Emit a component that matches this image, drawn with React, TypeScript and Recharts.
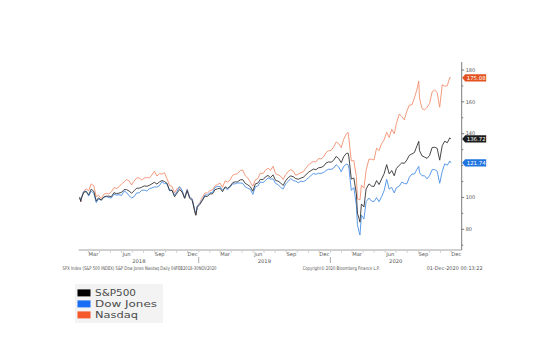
import React from 'react';
import { LineChart, Line, XAxis, YAxis } from 'recharts';

/* ------------------------------------------------------------------ */
/*  Data (rebased, 05 Feb 2018 = 100)                                  */
/* ------------------------------------------------------------------ */

const DATES = [
  // 2018
  '2018-02-05', '2018-02-08', '2018-02-09', '2018-02-16', '2018-02-23',
  '2018-03-02', '2018-03-09', '2018-03-16', '2018-03-23', '2018-03-29',
  '2018-04-06', '2018-04-13', '2018-04-20', '2018-04-27',
  '2018-05-04', '2018-05-11', '2018-05-18', '2018-05-25',
  '2018-06-01', '2018-06-08', '2018-06-15', '2018-06-22', '2018-06-29',
  '2018-07-06', '2018-07-13', '2018-07-20', '2018-07-27',
  '2018-08-03', '2018-08-10', '2018-08-17', '2018-08-24', '2018-08-31',
  '2018-09-07', '2018-09-14', '2018-09-21', '2018-09-28',
  '2018-10-05', '2018-10-12', '2018-10-19', '2018-10-26',
  '2018-11-02', '2018-11-09', '2018-11-16', '2018-11-23', '2018-11-30',
  '2018-12-07', '2018-12-14', '2018-12-21', '2018-12-24', '2018-12-28',
  // 2019
  '2019-01-04', '2019-01-11', '2019-01-18', '2019-01-25',
  '2019-02-01', '2019-02-08', '2019-02-15', '2019-02-22',
  '2019-03-01', '2019-03-08', '2019-03-15', '2019-03-22', '2019-03-29',
  '2019-04-05', '2019-04-12', '2019-04-18', '2019-04-26',
  '2019-05-03', '2019-05-10', '2019-05-17', '2019-05-24', '2019-05-31',
  '2019-06-07', '2019-06-14', '2019-06-21', '2019-06-28',
  '2019-07-05', '2019-07-12', '2019-07-19', '2019-07-26',
  '2019-08-02', '2019-08-09', '2019-08-16', '2019-08-23', '2019-08-30',
  '2019-09-06', '2019-09-13', '2019-09-20', '2019-09-27',
  '2019-10-04', '2019-10-11', '2019-10-18', '2019-10-25',
  '2019-11-01', '2019-11-08', '2019-11-15', '2019-11-22', '2019-11-29',
  '2019-12-06', '2019-12-13', '2019-12-20', '2019-12-27',
  // 2020
  '2020-01-03', '2020-01-10', '2020-01-17', '2020-01-24', '2020-01-31',
  '2020-02-07', '2020-02-14', '2020-02-19', '2020-02-21', '2020-02-28',
  '2020-03-06', '2020-03-13', '2020-03-16', '2020-03-20', '2020-03-23', '2020-03-27',
  '2020-04-03', '2020-04-09', '2020-04-17', '2020-04-24',
  '2020-05-01', '2020-05-08', '2020-05-15', '2020-05-22', '2020-05-29',
  '2020-06-05', '2020-06-12', '2020-06-19', '2020-06-26',
  '2020-07-02', '2020-07-10', '2020-07-17', '2020-07-24', '2020-07-31',
  '2020-08-07', '2020-08-14', '2020-08-21', '2020-08-28',
  '2020-09-02', '2020-09-04', '2020-09-11', '2020-09-18', '2020-09-25',
  '2020-10-02', '2020-10-09', '2020-10-16', '2020-10-23', '2020-10-30',
  '2020-11-06', '2020-11-13', '2020-11-20', '2020-11-27', '2020-11-30',
];

const SPX = [
  100, 97.4, 98.9, 103.1, 103.7, 101.6, 105.2, 103.9, 97.7, 99.7,
  98.3, 100.3, 100.8, 100.8, 100.5, 103.0, 102.4, 102.7,
  103.2, 104.9, 104.9, 104.0, 102.6, 104.2, 105.8, 105.8, 106.4,
  107.2, 107.0, 107.6, 108.5, 109.5, 108.4, 109.7, 110.6, 110.0,
  108.9, 104.5, 104.5, 100.4, 102.8, 105.0, 103.3, 99.4, 104.2,
  99.4, 98.1, 91.2, 88.8, 93.8,
  95.6, 98.0, 100.8, 100.6, 102.2, 102.2, 104.8, 105.4,
  105.8, 103.6, 106.6, 105.7, 107.0, 109.2, 109.8, 109.7, 111.0,
  111.2, 108.8, 107.9, 106.7, 103.9, 108.5, 109.0, 111.4, 111.1,
  112.9, 113.8, 112.4, 114.2, 110.7, 110.2, 109.1, 107.5, 110.5,
  112.4, 113.5, 113.0, 111.8, 111.4, 112.1, 112.7, 114.1,
  115.8, 116.8, 117.8, 117.4, 118.6, 118.8, 119.6, 121.6, 122.3,
  122.1, 123.3, 125.7, 124.4, 121.8, 125.6, 127.6, 127.8, 126.0, 111.5,
  112.2, 102.3, 90.1, 87.0, 84.5, 95.9, 94.0, 105.3, 108.5, 107.1,
  106.9, 110.6, 108.1, 111.6, 114.9, 120.6, 114.8, 116.9, 113.6,
  118.2, 120.2, 121.7, 121.4, 123.5, 126.5, 127.3, 128.2, 132.4,
  135.2, 129.4, 126.1, 125.3, 124.5, 126.4, 131.3, 131.5, 130.8, 123.4,
  132.5, 135.3, 134.3, 137.4, 136.72,
];

const DOW = [
  100, 98.0, 99.4, 103.6, 104.0, 100.8, 104.1, 102.5, 96.7, 99.0,
  98.3, 100.1, 100.5, 99.9, 99.7, 102.0, 101.5, 101.7,
  101.2, 104.0, 103.1, 101.0, 99.7, 100.5, 102.8, 102.9, 104.5,
  104.6, 104.0, 105.4, 105.9, 106.6, 106.5, 107.4, 109.8, 108.7,
  108.6, 104.1, 104.5, 101.4, 103.8, 106.8, 104.4, 99.8, 104.9,
  100.2, 99.0, 92.2, 89.5, 94.7,
  96.3, 98.6, 101.5, 101.6, 102.9, 103.1, 106.3, 106.9,
  106.9, 104.5, 106.2, 104.8, 106.5, 108.5, 108.5, 109.1, 109.0,
  108.9, 106.6, 105.8, 105.1, 101.9, 106.7, 107.2, 109.7, 109.3,
  110.6, 112.3, 111.5, 111.7, 108.8, 108.0, 106.3, 105.3, 108.5,
  110.1, 111.8, 110.6, 110.2, 109.2, 110.2, 110.0, 110.7,
  112.3, 113.7, 115.0, 114.5, 115.2, 115.1, 115.6, 116.9, 117.7,
  117.6, 118.4, 120.5, 119.1, 116.1, 119.5, 120.8, 120.5, 119.1, 104.4,
  106.2, 95.2, 82.9, 78.8, 76.4, 88.9, 86.5, 97.4, 99.6, 97.7,
  97.4, 99.9, 97.3, 100.5, 104.3, 111.4, 105.2, 106.3, 102.8,
  106.1, 107.1, 109.6, 108.7, 108.6, 112.7, 114.7, 114.7, 117.7,
  119.5, 115.6, 113.6, 113.6, 111.6, 113.7, 117.4, 117.5, 116.4, 108.9,
  116.3, 121.1, 120.2, 122.9, 121.74,
];

const NDX = [
  100, 97.3, 98.7, 103.9, 105.3, 104.2, 108.5, 107.4, 100.4, 101.4,
  99.2, 102.0, 102.6, 102.2, 103.5, 106.2, 105.6, 106.7,
  108.4, 109.7, 111.2, 110.4, 107.8, 110.3, 112.3, 112.2, 111.0,
  112.1, 112.5, 112.2, 114.0, 116.4, 113.4, 115.0, 114.6, 115.5,
  111.8, 107.6, 106.9, 102.9, 105.6, 106.3, 104.0, 99.6, 105.2,
  100.0, 99.2, 90.9, 88.9, 94.5,
  96.7, 100.1, 102.7, 102.8, 104.3, 104.7, 107.2, 108.0,
  109.0, 106.3, 110.3, 109.7, 110.9, 113.9, 114.6, 114.8, 116.9,
  117.2, 113.6, 112.2, 109.6, 107.0, 111.1, 111.9, 115.3, 114.9,
  117.1, 118.3, 116.9, 119.6, 114.9, 114.2, 113.3, 111.3, 114.3,
  116.3, 117.4, 116.5, 113.9, 114.6, 115.6, 116.1, 118.3,
  120.4, 121.6, 122.6, 122.3, 124.4, 124.2, 125.4, 128.1, 129.3,
  129.5, 131.7, 134.8, 133.7, 131.3, 136.6, 139.7, 140.9, 137.4, 123.0,
  123.1, 113.0, 99.1, 98.7, 98.5, 107.7, 105.8, 117.0, 124.1, 123.9,
  123.5, 130.9, 129.4, 133.8, 136.2, 140.9, 137.6, 142.8, 140.0,
  146.5, 152.4, 150.7, 148.7, 154.2, 158.0, 158.1, 162.4, 167.9,
  173.0, 162.4, 155.8, 154.9, 156.6, 159.0, 166.2, 167.5, 165.7, 156.6,
  170.7, 169.8, 170.1, 175.2, 175.08,
];

/* ------------------------------------------------------------------ */
/*  Axis labels                                                        */
/* ------------------------------------------------------------------ */

const X_START = '2018-02-02';
const X_END = '2020-12-30';

const QUARTER_TICKS = [
  '2018-03-15', '2018-06-15', '2018-09-15', '2018-12-15',
  '2019-03-15', '2019-06-15', '2019-09-15', '2019-12-15',
  '2020-03-15', '2020-06-15', '2020-09-15', '2020-12-15',
];
const QUARTER_LABELS = ['Mar', 'Jun', 'Sep', 'Dec', 'Mar', 'Jun', 'Sep', 'Dec', 'Mar', 'Jun', 'Sep', 'Dec'];
const YEAR_TICKS = ['2018-07-19', '2019-07-02', '2020-06-30'];
const YEAR_LABELS = ['2018', '2019', '2020'];
const YEAR_BREAKS = ['2019-01-01', '2020-01-01'];

// 120 sits under the Dow Jones value tag, as in the source
const Y_MAJOR = [80, 100, 140, 160, 180];
const Y_MINOR = [70, 90, 110, 120, 130, 150, 170];

const FOOTER_LEFT = 'SPX Index (S&P 500 INDEX) S&P Dow Jones Nasdaq  Daily 04FEB2018-30NOV2020';
const FOOTER_MID = 'Copyright\u00a9 2020 Bloomberg Finance L.P.';
const FOOTER_RIGHT = '01-Dec-2020 00:13:22';

const SERIES = [
  { key: 'ndx', label: 'Nasdaq', values: NDX, line: '#f3906f', swatch: '#f5592b', tag: '#e4531f' },
  { key: 'dow', label: 'Dow Jones', values: DOW, line: '#4a8ee6', swatch: '#1a6ef5', tag: '#1f74e0' },
  { key: 'spx', label: 'S&P500', values: SPX, line: '#333333', swatch: '#000000', tag: '#1c1c1c' },
];
const LEGEND_ORDER = ['spx', 'dow', 'ndx'];
const LEGEND_WIDTHS = [41, 62, 43];

/* ------------------------------------------------------------------ */
/*  Helpers                                                            */
/* ------------------------------------------------------------------ */

const BASE = Date.parse('2018-01-01');
const day = (d: string) => Math.round((Date.parse(d) - BASE) / 864e5);

const rows = DATES.map((d, i) => ({
  t: day(d),
  spx: SPX[i],
  dow: DOW[i],
  ndx: NDX[i],
}));

// minor month ticks
const monthStarts: number[] = [];
for (let y = 2018; y <= 2020; y++) {
  for (let m = 1; m <= 12; m++) {
    const s = `${y}-${String(m).padStart(2, '0')}-01`;
    if (day(s) > day(X_START) && day(s) < day(X_END)) monthStarts.push(day(s));
  }
}

const tickKind = new Map<number, { kind: string; label?: string }>();
monthStarts.forEach((v) => tickKind.set(v, { kind: 'month' }));
YEAR_BREAKS.forEach((d) => tickKind.set(day(d), { kind: 'break' }));
QUARTER_TICKS.forEach((d, i) => tickKind.set(day(d), { kind: 'quarter', label: QUARTER_LABELS[i] }));
YEAR_TICKS.forEach((d, i) => tickKind.set(day(d), { kind: 'year', label: YEAR_LABELS[i] }));
const X_TICKS = Array.from(tickKind.keys()).sort((a, b) => a - b);

const lastValues = SERIES.map((s) => ({ value: s.values[s.values.length - 1], color: s.tag }));
const Y_TICKS = [...Y_MINOR, ...Y_MAJOR, ...lastValues.map((l) => l.value)];

const FONT = '"DejaVu Sans", Verdana, sans-serif';
const AXIS_GREY = '#5a5a5a';

function TimeTick(props: any) {
  const { x, y, payload } = props;
  const info = tickKind.get(payload.value);
  if (!info) return null;
  if (info.kind === 'month') {
    return <line x1={x} x2={x} y1={y + 1} y2={y + 2.5} stroke="#aaa" strokeWidth={0.7} />;
  }
  if (info.kind === 'break') {
    return (
      <g>
        <line x1={x} x2={x} y1={y + 1} y2={y + 2.5} stroke="#aaa" strokeWidth={0.7} />
        <line x1={x} x2={x} y1={y + 7} y2={y + 13} stroke="#888" strokeWidth={0.7} />
      </g>
    );
  }
  const ty = info.kind === 'quarter' ? y + 6.2 : y + 12.6;
  return (
    <text x={x} y={ty} textAnchor="middle" fontSize={5.2} fontFamily={FONT} fill="#555">
      {info.label}
    </text>
  );
}

function ValueTick(props: any) {
  const { x, y, payload } = props;
  const v = payload.value;
  const tag = lastValues.find((l) => l.value === v);
  if (tag) {
    const x0 = x + 0.5;
    return (
      <g>
        <path
          d={`M${x0},${y} L${x0 + 3},${y - 3.6} L${x0 + 24},${y - 3.6} L${x0 + 24},${y + 3.6} L${x0 + 3},${y + 3.6} Z`}
          fill={tag.color}
        />
        <text
          x={x0 + 14}
          y={y}
          dy="0.35em"
          textAnchor="middle"
          fontSize={5.4}
          fontFamily={FONT}
          fill="#ffffff"
        >
          {v.toFixed(2)}
        </text>
      </g>
    );
  }
  if (Y_MAJOR.includes(v)) {
    return (
      <g>
        <line x1={x} x2={x + 2.5} y1={y} y2={y} stroke={AXIS_GREY} strokeWidth={0.8} />
        <text x={x + 4} y={y} dy="0.35em" fontSize={5} fontFamily={FONT} fill="#555">
          {v}
        </text>
      </g>
    );
  }
  return <line x1={x} x2={x + 1.5} y1={y} y2={y} stroke={AXIS_GREY} strokeWidth={0.8} />;
}

/* ------------------------------------------------------------------ */
/*  Chart                                                              */
/* ------------------------------------------------------------------ */

export default function App() {
  return (
    <div
      style={{
        position: 'fixed',
        left: 0,
        top: 0,
        width: 535,
        height: 355,
        background: '#ffffff',
      }}
    >
      <LineChart
        width={535}
        height={355}
        data={rows}
        margin={{ top: 62, right: 33.3, bottom: 85, left: 78.6 }}
      >
        <XAxis
          dataKey="t"
          type="number"
          domain={[day(X_START), day(X_END)]}
          allowDataOverflow
          ticks={X_TICKS}
          interval={0}
          height={20}
          tickSize={0}
          tickMargin={0}
          tickLine={false}
          axisLine={{ stroke: '#8a8a8a', strokeWidth: 0.8 }}
          tick={<TimeTick />}
        />
        <YAxis
          orientation="right"
          type="number"
          domain={[67, 185]}
          allowDataOverflow
          ticks={Y_TICKS}
          interval={0}
          width={40}
          tickSize={0}
          tickMargin={0}
          tickLine={false}
          axisLine={{ stroke: AXIS_GREY, strokeWidth: 0.8 }}
          tick={<ValueTick />}
        />
        {SERIES.map((s) => (
          <Line
            key={s.key}
            type="linear"
            dataKey={s.key}
            name={s.label}
            stroke={s.line}
            strokeWidth={0.9}
            dot={false}
            activeDot={false}
            isAnimationActive={false}
          />
        ))}
      </LineChart>

      {/* footer + legend */}
      <svg
        width={535}
        height={355}
        style={{ position: 'absolute', left: 0, top: 0, pointerEvents: 'none' }}
      >
        <g fontFamily={FONT} fontSize={5} fill="#555">
          <text x={62.5} y={270.3} textLength={154} lengthAdjust="spacingAndGlyphs">
            {FOOTER_LEFT}
          </text>
          <text x={302.7} y={270.3} textLength={77} lengthAdjust="spacingAndGlyphs">
            {FOOTER_MID}
          </text>
          <text x={426.7} y={270.3} textLength={56} lengthAdjust="spacingAndGlyphs">
            {FOOTER_RIGHT}
          </text>
        </g>
        <rect x={75} y={284} width={88} height={39} fill="#f3f3f3" />
        {LEGEND_ORDER.map((k, i) => {
          const s = SERIES.find((q) => q.key === k)!;
          const cy = 292.8 + i * 11;
          return (
            <g key={k}>
              <rect x={77.5} y={cy - 3.4} width={13} height={7} fill={s.swatch} />
              <text
                x={95}
                y={cy + 3.2}
                fontFamily={FONT}
                fontSize={8.6}
                fill="#4a4a4a"
                textLength={LEGEND_WIDTHS[i]}
                lengthAdjust="spacingAndGlyphs"
              >
                {s.label}
              </text>
            </g>
          );
        })}
      </svg>
    </div>
  );
}
